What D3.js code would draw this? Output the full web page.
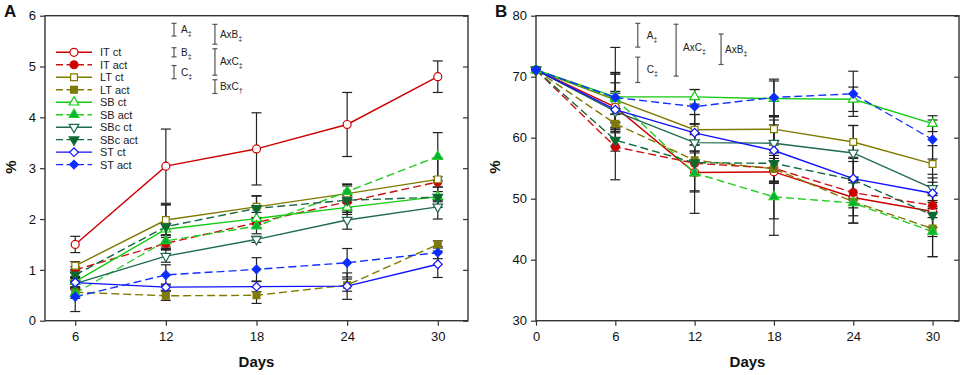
<!DOCTYPE html>
<html><head><meta charset="utf-8">
<script src="https://cdn.jsdelivr.net/npm/d3@7"></script>
<style>body{margin:0;background:#fff} svg{display:block;font-family:"Liberation Sans",Arial,sans-serif}</style>
</head><body><svg id="c" width="963" height="375"></svg>
<script>
// ---------- DATA ----------
const seriesNames = ["IT ct","IT act","LT ct","LT act","SB ct","SB act","SBc ct","SBc act","ST ct","ST act"];

const daysA = [6,12,18,24,30];
const xTicksA = [6,12,18,24,30];
const yTicksA = [0,1,2,3,4,5,6];
const meanA = [
  [1.50,3.04,3.38,3.86,4.80],
  [1.00,1.52,1.93,2.34,2.73],
  [1.08,1.98,2.24,2.50,2.78],
  [0.56,0.49,0.50,0.70,1.50],
  [0.77,1.80,2.01,2.23,2.44],
  [0.54,1.57,1.86,2.54,3.23],
  [0.73,1.27,1.60,1.98,2.24],
  [0.90,1.85,2.21,2.37,2.43],
  [0.75,0.66,0.67,0.68,1.11],
  [0.47,0.90,1.01,1.14,1.34]
];
const errA = [
  [0.16,0.73,0.71,0.63,0.31],
  [0.06,0.12,0.10,0.12,0.10],
  [0.08,0.30,0.22,0.18,0.42],
  [0.05,0.09,0.16,0.12,0.07],
  [0.10,0.12,0.12,0.10,0.10],
  [0.10,0.12,0.15,0.15,0.47],
  [0.10,0.12,0.06,0.18,0.24],
  [0.10,0.43,0.24,0.28,0.20],
  [0.10,0.06,0.10,0.26,0.26],
  [0.29,0.20,0.23,0.28,0.12]
];
const statLabelsA = ["A","B","C","AxB","AxC","BxC"];
const statMarksA = ["‡","‡","‡","‡","‡","†"];
const statLenA = [0.25,0.18,0.26,0.39,0.52,0.27];

const daysB = [0,6,12,18,24,30];
const xTicksB = [0,6,12,18,24,30];
const yTicksB = [30,40,50,60,70,80];
const meanB = [
  [71.1,65.0,54.3,54.4,50.2,47.9],
  [71.1,58.5,55.8,55.0,51.0,48.9],
  [71.1,66.2,61.3,61.4,59.3,55.7],
  [71.1,62.3,56.3,54.9,49.5,45.1],
  [71.1,66.7,66.7,66.4,66.3,62.3],
  [71.1,66.4,54.2,50.3,49.3,44.6],
  [71.1,64.3,59.2,59.1,57.5,51.7],
  [71.1,59.6,55.9,55.8,53.1,47.3],
  [71.1,64.6,60.8,57.9,53.3,50.9],
  [71.1,66.6,65.1,66.6,67.2,59.7]
];
const errB = [
  [0.3,4.0,3.2,7.7,3.0,2.6],
  [0.3,5.4,2.0,2.5,2.5,2.0],
  [0.3,4.5,2.5,2.0,2.7,3.0],
  [0.3,1.5,2.5,2.2,3.5,4.6],
  [0.3,8.1,1.2,2.9,2.0,1.3],
  [0.3,4.0,6.6,6.3,3.3,4.1],
  [0.3,3.0,3.0,4.5,4.5,2.3],
  [0.3,1.8,4.6,3.0,3.0,3.5],
  [0.3,3.0,3.0,5.0,3.5,2.5],
  [0.3,4.0,2.8,3.0,3.7,3.2]
];
const statLabelsB = ["A","C","AxC","AxB"];
const statMarksB = ["‡","‡","‡","‡"];
const statLenB = [3.9,4.15,8.5,5.0];

// ---------- STYLES ----------
const seriesStyle = [
  {c:"#cc0000", fill:"#fff",    dash:null,  sym:"circle"},
  {c:"#cc1111", fill:"#cc0000", dash:"8,4", sym:"circle"},
  {c:"#7f7a00", fill:"#fff",    dash:null,  sym:"square"},
  {c:"#7f7a00", fill:"#7f7a10", dash:"8,4", sym:"square"},
  {c:"#11cc11", fill:"#fff",    dash:null,  sym:"tri"},
  {c:"#22cc22", fill:"#00b040", dash:"8,4", sym:"tri"},
  {c:"#1d6b4c", fill:"#fff",    dash:null,  sym:"triDown"},
  {c:"#13683e", fill:"#0a6a28", dash:"8,4", sym:"triDown"},
  {c:"#1010ff", fill:"#fff",    dash:null,  sym:"diamond"},
  {c:"#1030ff", fill:"#0a2cff", dash:"8,4", sym:"diamond"}
];

const svg = d3.select("#c");
const frameColor = "#333";

function symPath(kind){
  if(kind==="circle") return {d:d3.symbol(d3.symbolCircle,50)(), r:0};
  if(kind==="square") return {d:d3.symbol(d3.symbolSquare,46)(), r:0};
  if(kind==="tri") return {d:d3.symbol(d3.symbolTriangle,40)(), r:0};
  if(kind==="triDown") return {d:d3.symbol(d3.symbolTriangle,40)(), r:180};
  return {d:d3.symbol(d3.symbolSquare,38)(), r:45};
}
function drawMarker(g, st, cx, cy){
  const s = symPath(st.sym);
  g.append("path").attr("d", s.d)
    .attr("transform", `translate(${cx},${cy}) rotate(${s.r})`)
    .attr("fill", st.fill).attr("stroke", st.c).attr("stroke-width",1.2);
}

function panel(o){
  const g = svg.append("g");
  const x = d3.scaleLinear().domain(o.xDom).range([o.L,o.R]);
  const y = d3.scaleLinear().domain(o.yDom).range([o.B,o.T]);
  const fmt = d3.format("d");

  // axes
  g.append("g").attr("transform",`translate(${o.L},0)`)
    .call(d3.axisLeft(y).tickValues(o.yTicks).tickFormat(fmt).tickSize(5).tickSizeOuter(0).tickPadding(4))
    .call(a=>{a.select(".domain").remove(); a.selectAll("line").attr("stroke",frameColor).attr("stroke-width",1.2);
      a.selectAll("text").attr("font-size",13).attr("fill","#111");});
  g.append("g").attr("transform",`translate(${o.R},0)`)
    .call(d3.axisRight(y).tickValues(o.yTicks).tickSize(-5).tickSizeOuter(0).tickFormat(""))
    .call(a=>{a.select(".domain").remove(); a.selectAll("line").attr("stroke",frameColor).attr("stroke-width",1.2);});
  g.append("g").attr("transform",`translate(0,${o.B})`)
    .call(d3.axisBottom(x).tickValues(o.xTicks).tickFormat(fmt).tickSize(5).tickSizeOuter(0).tickPadding(6))
    .call(a=>{a.select(".domain").remove(); a.selectAll("line").attr("stroke",frameColor).attr("stroke-width",1.2);
      a.selectAll("text").attr("font-size",13).attr("fill","#111");});
  g.append("rect").attr("x",o.L).attr("y",o.T).attr("width",o.R-o.L).attr("height",o.B-o.T)
    .attr("fill","none").attr("stroke",frameColor).attr("stroke-width",1.4);

  // titles
  g.append("text").attr("x",(o.L+o.R)/2).attr("y",367).attr("text-anchor","middle")
    .attr("font-size",15).attr("font-weight","bold").attr("fill","#111").text("Days");
  g.append("text").attr("transform",`translate(${o.pctX},167) rotate(-90)`).attr("text-anchor","middle")
    .attr("font-size",15).attr("font-weight","bold").attr("fill","#111").text("%");
  g.append("text").attr("x",o.lblX).attr("y",17).attr("font-size",17).attr("font-weight","bold")
    .attr("fill","#111").text(o.label);

  // stat bars
  o.stat.forEach((s,i)=>{
    const bx = x(s.xd), y1 = y(s.top), y2 = y(s.top - o.statLen[i]);
    const sg = g.append("g").attr("stroke","#555").attr("stroke-width",1.2);
    sg.append("line").attr("x1",bx).attr("x2",bx).attr("y1",y1).attr("y2",y2);
    sg.append("line").attr("x1",bx-2.5).attr("x2",bx+2.5).attr("y1",y1).attr("y2",y1);
    sg.append("line").attr("x1",bx-2.5).attr("x2",bx+2.5).attr("y1",y2).attr("y2",y2);
    const t = g.append("text").attr("x",bx+s.dx).attr("y",(y1+y2)/2+s.dy+3.5)
      .attr("font-size",10).attr("fill","#222").text(o.statLabels[i]);
    t.append("tspan").attr("font-size",7).attr("dy",3).text(o.statMarks[i]);
  });

  // error bars
  const eg = g.append("g").attr("stroke","#222").attr("stroke-width",1.2);
  o.mean.forEach((ser,si)=>{
    ser.forEach((v,j)=>{
      const e = o.err[si][j];
      const cx = x(o.days[j]);
      eg.append("line").attr("x1",cx).attr("x2",cx).attr("y1",y(v-e)).attr("y2",y(v+e));
      [v-e,v+e].forEach(w=>eg.append("line").attr("x1",cx-5).attr("x2",cx+5).attr("y1",y(w)).attr("y2",y(w)));
    });
  });

  // lines
  const line = d3.line().x((d,j)=>x(o.days[j])).y(d=>y(d));
  o.mean.forEach((ser,si)=>{
    const st = seriesStyle[si];
    g.append("path").attr("d",line(ser)).attr("fill","none").attr("stroke",st.c)
      .attr("stroke-width",1.4).attr("stroke-dasharray",st.dash);
  });
  // markers
  o.mean.forEach((ser,si)=>{
    const st = seriesStyle[si];
    ser.forEach((v,j)=>drawMarker(g, st, x(o.days[j]), y(v)));
  });
  return {g,x,y};
}

const pA = panel({L:45,R:468,T:15.7,B:320.7,xDom:[4,32],yDom:[0,6],xTicks:xTicksA,yTicks:yTicksA,
  days:daysA,mean:meanA,err:errA,label:"A",lblX:4,pctX:15.5,
  statLabels:statLabelsA,statMarks:statMarksA,statLen:statLenA,
  stat:[{xd:12.54,top:5.85,dx:7,dy:0},{xd:12.54,top:5.37,dx:7,dy:0},{xd:12.54,top:5.02,dx:7,dy:0},
        {xd:15.25,top:5.83,dx:5,dy:0},{xd:15.25,top:5.35,dx:5,dy:0},{xd:15.25,top:4.74,dx:5,dy:0}]});

const pB = panel({L:536,R:959,T:15.7,B:320.7,xDom:[0,32],yDom:[30,80],xTicks:xTicksB,yTicks:yTicksB,
  days:daysB,mean:meanB,err:errB,label:"B",lblX:495,pctX:500,
  statLabels:statLabelsB,statMarks:statMarksB,statLen:statLenB,
  stat:[{xd:7.7,top:78.75,dx:9,dy:0},{xd:7.7,top:73.2,dx:9,dy:0},{xd:10.6,top:78.6,dx:7,dy:-3},{xd:14.0,top:77.0,dx:4,dy:0}]});

// legend (panel A)
const lg = pA.g.append("g");
seriesNames.forEach((n,i)=>{
  const st = seriesStyle[i];
  const ry = 52.3 + i*12.48;
  lg.append("line").attr("x1",56).attr("x2",92).attr("y1",ry).attr("y2",ry)
    .attr("stroke",st.c).attr("stroke-width",1.4).attr("stroke-dasharray",st.dash?"7,3.5":null);
  drawMarker(lg, st, 74, ry);
  lg.append("text").attr("x",100).attr("y",ry+4).attr("font-size",11).attr("fill","#222").text(n);
});
</script></body></html>
